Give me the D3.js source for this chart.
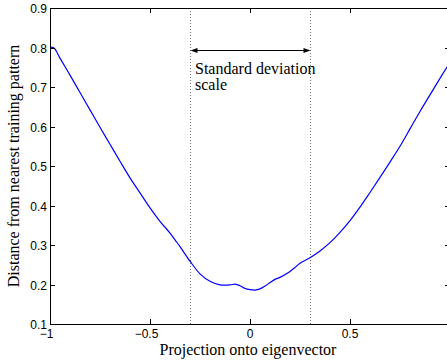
<!DOCTYPE html>
<html>
<head>
<meta charset="utf-8">
<script src="https://cdn.jsdelivr.net/npm/d3@7/dist/d3.min.js"></script>
<style>
  html, body { margin: 0; padding: 0; background: #fff; }
  svg { display: block; }
</style>
</head>
<body>
<svg id="chart" width="447" height="360"></svg>
<script>
// ---- data ----
const projection = [-1, -0.98, -0.95, -0.9, -0.85, -0.8, -0.75, -0.7, -0.65, -0.6, -0.55, -0.5, -0.45,
  -0.4, -0.375, -0.35, -0.3, -0.25, -0.2, -0.15, -0.1, -0.075, -0.05, -0.025, 0, 0.025, 0.05,
  0.075, 0.1, 0.125, 0.15, 0.2, 0.225, 0.25, 0.3, 0.35, 0.4, 0.45, 0.5, 0.55, 0.6, 0.65, 0.7,
  0.75, 0.8, 0.85, 0.9, 0.95, 1.0];
const distance = [0.801, 0.799, 0.773, 0.730, 0.686, 0.642, 0.598, 0.555, 0.512, 0.470, 0.432, 0.394, 0.360,
  0.330, 0.313, 0.296, 0.259, 0.227, 0.208, 0.199, 0.199, 0.201, 0.197, 0.190, 0.187, 0.186, 0.189,
  0.196, 0.205, 0.213, 0.218, 0.233, 0.243, 0.254, 0.268, 0.285, 0.306, 0.332, 0.362, 0.396, 0.433, 0.471, 0.510,
  0.550, 0.594, 0.638, 0.680, 0.722, 0.762];
const xTicks = [-1, -0.5, 0, 0.5, 1];
const yTicks = [0.1, 0.2, 0.3, 0.4, 0.5, 0.6, 0.7, 0.8, 0.9];
const sdMarks = [-0.3, 0.3];
const annotation = ["Standard deviation", "scale"];
const xLabel = "Projection onto eigenvector";
const yLabel = "Distance from nearest training pattern";

// ---- layout ----
const W = 447;
const svg = d3.select("#chart");
const L = 50, R = 450, T = 8, B = 324;
const x = d3.scaleLinear().domain([-1, 1]).range([L, R]);
const y = d3.scaleLinear().domain([0.1, 0.9]).range([B, T]);
const tickFont = "'Liberation Sans', Arial, Helvetica, sans-serif";
const serif = "'Liberation Serif', 'Times New Roman', Times, serif";
const tickLen = 5;

// dotted standard deviation lines
svg.append("g").selectAll("line").data(sdMarks).join("line")
  .attr("x1", d => x(d) + 0.5).attr("x2", d => x(d) + 0.5)
  .attr("y1", T).attr("y2", B)
  .attr("stroke", "#777").attr("stroke-width", 1)
  .attr("stroke-dasharray", "1,2");

// curve
const line = d3.line()
  .x((d, i) => x(projection[i]))
  .y(d => y(d))
  .curve(d3.curveCatmullRom.alpha(0.5));
svg.append("path").datum(distance)
  .attr("d", line)
  .attr("fill", "none").attr("stroke", "#0000ff").attr("stroke-width", 1.2);

// axes (box with inward ticks)
const ax = svg.append("g").attr("stroke", "#000").attr("stroke-width", 1).attr("fill", "none");
ax.append("rect").attr("x", L + 0.5).attr("y", T + 0.5).attr("width", R - L).attr("height", B - T);
xTicks.forEach(t => {
  const px = Math.round(x(t)) + 0.5;
  ax.append("line").attr("x1", px).attr("x2", px).attr("y1", B).attr("y2", B - tickLen);
  ax.append("line").attr("x1", px).attr("x2", px).attr("y1", T).attr("y2", T + tickLen);
});
yTicks.forEach(t => {
  const py = Math.round(y(t)) + 0.5;
  ax.append("line").attr("x1", L).attr("x2", L + tickLen).attr("y1", py).attr("y2", py);
  ax.append("line").attr("x1", R).attr("x2", R - tickLen).attr("y1", py).attr("y2", py);
});

// y tick labels
svg.append("g").selectAll("text").data(yTicks).join("text")
  .attr("x", L - 3).attr("y", d => y(d) + 5)
  .attr("text-anchor", "end")
  .attr("font-family", tickFont).attr("font-size", 12)
  .text(d => d3.format(".1f")(d));

// x tick labels: number centered on tick, minus hanging to the left
// (the label at +1 falls outside the visible window, as in the original)
const xl = svg.append("g");
xTicks.filter(t => x(t) < W).forEach(t => {
  const s = t === 0 ? "0" : String(Math.abs(t));
  const tx = xl.append("text")
    .attr("x", x(t)).attr("y", B + 14)
    .attr("text-anchor", "middle")
    .attr("font-family", tickFont).attr("font-size", 12)
    .text(s);
  if (t < 0) {
    const w = tx.node().getComputedTextLength();
    xl.append("text")
      .attr("x", x(t) - w / 2).attr("y", B + 14)
      .attr("text-anchor", "end")
      .attr("font-family", tickFont).attr("font-size", 12)
      .text("\u2212");
  }
});

// axis labels
svg.append("text")
  .attr("x", (L + R) / 2 - 2).attr("y", 355)
  .attr("text-anchor", "middle")
  .attr("font-family", serif).attr("font-size", 16)
  .text(xLabel);
svg.append("text")
  .attr("transform", `translate(19, ${(T + B) / 2}) rotate(-90)`)
  .attr("text-anchor", "middle")
  .attr("font-family", serif).attr("font-size", 16)
  .text(yLabel);

// double arrow
const ay = 50.5;
const x0 = x(sdMarks[0]) + 0.5, x1 = x(sdMarks[1]) + 0.5;
svg.append("line").attr("x1", x0 + 4).attr("x2", x1 - 4).attr("y1", ay).attr("y2", ay)
  .attr("stroke", "#000").attr("stroke-width", 1.2);
svg.append("path")
  .attr("d", `M${x0},${ay} L${x0 + 7},${ay - 2.5} L${x0 + 7},${ay + 2.5} Z`)
  .attr("fill", "#000");
svg.append("path")
  .attr("d", `M${x1},${ay} L${x1 - 7},${ay - 2.5} L${x1 - 7},${ay + 2.5} Z`)
  .attr("fill", "#000");

// annotation text
svg.append("g").selectAll("text").data(annotation).join("text")
  .attr("x", x(sdMarks[0]) + 5)
  .attr("y", (d, i) => 74 + i * 16)
  .attr("font-family", serif).attr("font-size", 16)
  .text(d => d);
</script>
</body>
</html>
